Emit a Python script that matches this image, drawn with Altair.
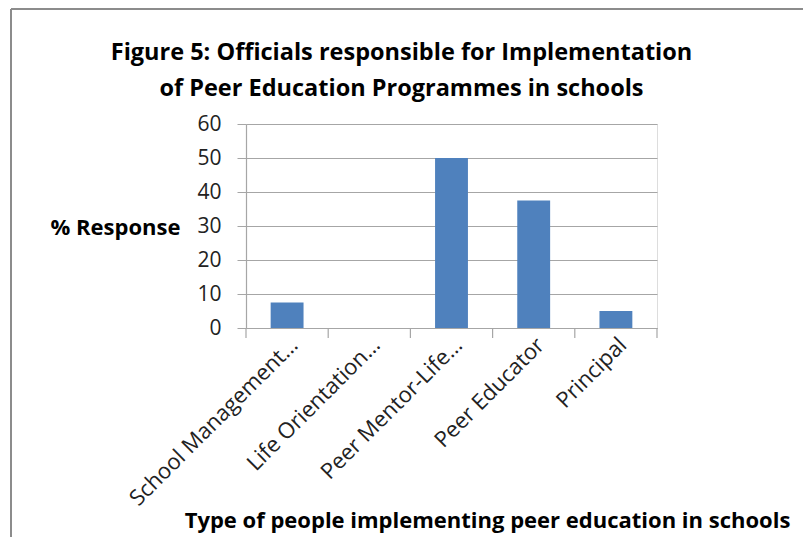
import altair as alt
import pandas as pd

categories = ["School Management…", "Life Orientation…", "Peer Mentor-Life…", "Peer Educator", "Principal"]
values = [7.5, 0, 50, 37.5, 5]
y_ticks = [0, 10, 20, 30, 40, 50, 60]

df = pd.DataFrame({"cat": categories, "val": values})

FONT = "Open Sans"
BAR = "#4F81BD"
GRID = "#A6A6A6"

x_scale = alt.Scale(domain=categories, paddingInner=0, paddingOuter=0)

bars = alt.Chart(df).mark_bar(color=BAR, width=alt.RelativeBandSize(0.4)).encode(
    x=alt.X("cat:N", scale=x_scale, sort=categories,
            axis=alt.Axis(title="Type of people implementing peer education in schools",
                          labelAngle=-45, labelFontSize=22, labelFont=FONT, labelColor="#222",
                          labelPadding=6, labelLimit=0, ticks=False, domainColor=GRID, domainWidth=1.2,
                          titleFont=FONT, titleFontSize=22, titleFontWeight="bold", titleColor="#000",
                          titleX=241, titleY=199, titleAlign="center", titleBaseline="alphabetic")),
    y=alt.Y("val:Q", scale=alt.Scale(domain=[0, 60]),
            axis=alt.Axis(title="% Response", values=y_ticks, tickSize=9, tickColor=GRID,
                          domainColor=GRID, domainWidth=1.2, gridColor=GRID, gridWidth=1.2,
                          labelFont=FONT, labelFontSize=21, labelColor="#222", labelPadding=16,
                          titleFont=FONT, titleFontSize=22, titleFontWeight="bold", titleColor="#000",
                          titleAngle=0, titleAlign="right", titleBaseline="middle",
                          titleX=-66, titleY=103)),
)

ticks = alt.Chart(df).mark_rule(color=GRID, strokeWidth=1.2).encode(
    x=alt.X("cat:N", scale=x_scale, sort=categories, bandPosition=0),
    y=alt.value(204), y2=alt.value(214),
)
last_tick = alt.Chart(pd.DataFrame({"a": [0]})).mark_rule(color=GRID, strokeWidth=1.2).encode(
    x=alt.value(411), y=alt.value(204), y2=alt.value(214)
)

frame_top = alt.Chart(pd.DataFrame({"a": [0]})).mark_rule(color="#8C8C8C", strokeWidth=2).encode(
    x=alt.value(-235), x2=alt.value(600), y=alt.value(-115)
)
frame_left = alt.Chart(pd.DataFrame({"a": [0]})).mark_rule(color="#8C8C8C", strokeWidth=2).encode(
    x=alt.value(-235), y=alt.value(-115), y2=alt.value(450)
)

chart = alt.layer(bars, ticks, last_tick, frame_top, frame_left).properties(
    width=411, height=204,
    autosize=alt.AutoSizeParams(type="none"),
    padding={"left": 246, "top": 124, "right": 146, "bottom": 209},
    title=alt.TitleParams(
        text=["Figure 5: Officials responsible for Implementation", "of Peer Education Programmes in schools"],
        font=FONT, fontSize=23.5, fontWeight="bold", color="#000", anchor="middle",
        dx=-50, offset=0, dy=92, lineHeight=36,
    ),
).configure_view(stroke=None).configure(background="white")

chart.save("out.html", embed_options={"renderer": "svg", "actions": False})
